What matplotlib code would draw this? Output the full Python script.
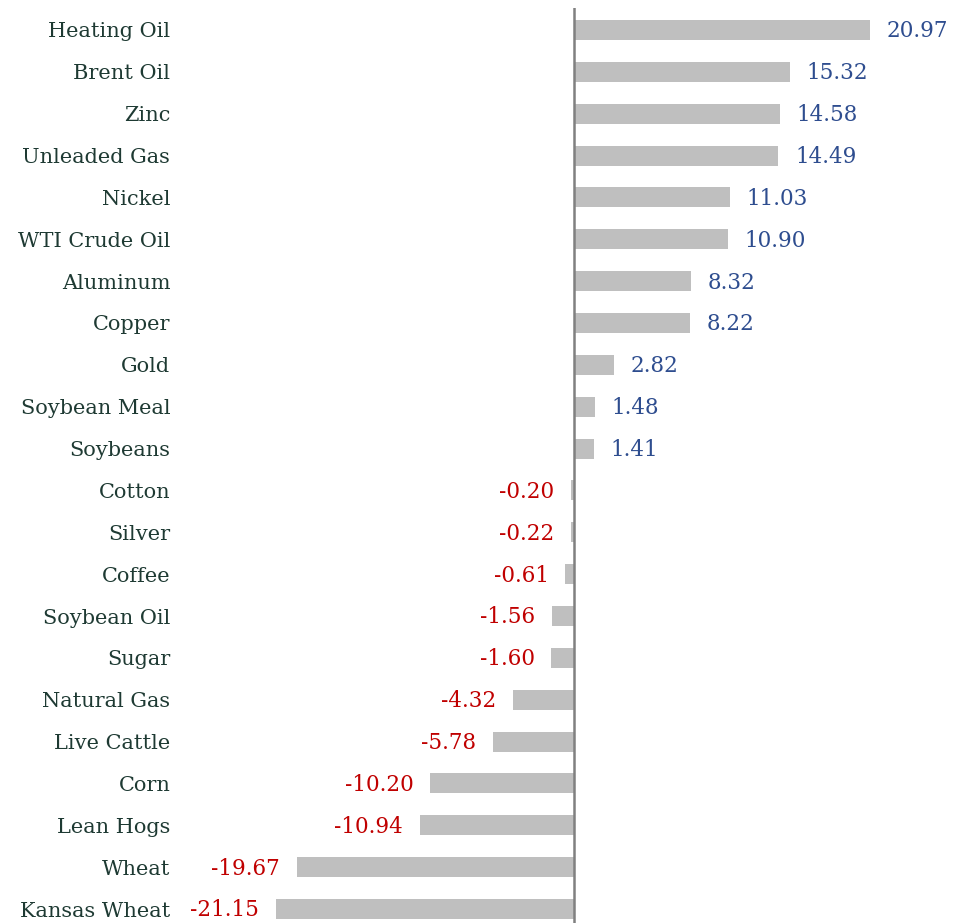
import matplotlib.pyplot as plt

# commodity returns (%)
names = ['Heating Oil', 'Brent Oil', 'Zinc', 'Unleaded Gas', 'Nickel', 'WTI Crude Oil',
         'Aluminum', 'Copper', 'Gold', 'Soybean Meal', 'Soybeans', 'Cotton', 'Silver',
         'Coffee', 'Soybean Oil', 'Sugar', 'Natural Gas', 'Live Cattle', 'Corn',
         'Lean Hogs', 'Wheat', 'Kansas Wheat']
values = [20.97, 15.32, 14.58, 14.49, 11.03, 10.90, 8.32, 8.22, 2.82, 1.48, 1.41,
          -0.20, -0.22, -0.61, -1.56, -1.60, -4.32, -5.78, -10.20, -10.94, -19.67, -21.15]

plt.rcParams['font.family'] = ['DejaVu Serif']

W, H = 963, 923
fig = plt.figure(figsize=(W / 100, H / 100), dpi=100)
ax = fig.add_axes([180 / W, 0, 1 - 180 / W, (H - 8) / H])

pos = list(range(len(names)))
ax.barh(pos, values, height=0.48, color='#bfbfbf')
ax.axvline(0, color='#808080', linewidth=1.8)

# scale: 14.1 px per unit, zero at x=574
ax.set_xlim((180 - 574) / 14.1, (W - 574) / 14.1)
ax.set_ylim(21 + 14 / 41.86, -22 / 41.86)

for p, v in zip(pos, values):
    if v >= 0:
        ax.annotate(f'{v:.2f}', (v, p), xytext=(12, -1), textcoords='offset points',
                    ha='left', va='center', color='#2e4d8f', fontsize=15.5)
    else:
        ax.annotate(f'{v:.2f}', (v, p), xytext=(-12, -1), textcoords='offset points',
                    ha='right', va='center', color='#c00000', fontsize=15.5)

ax.set_yticks(pos)
ax.set_yticklabels(names, fontsize=15, color='#1e3a33', va='center_baseline')
ax.tick_params(axis='y', length=0, pad=7)
ax.set_xticks([])
for s in ax.spines.values():
    s.set_visible(False)

fig.savefig('out.png', dpi=100)
